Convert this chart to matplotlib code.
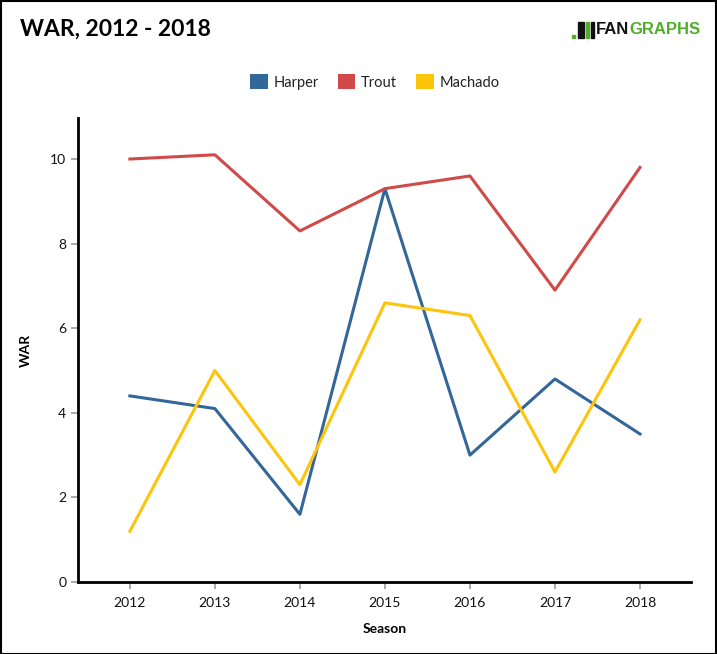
import matplotlib
matplotlib.use("Agg")
import matplotlib.pyplot as plt
from matplotlib.patches import Rectangle, Patch

seasons = [2012, 2013, 2014, 2015, 2016, 2017, 2018]
harper = [4.4, 4.1, 1.6, 9.3, 3.0, 4.8, 3.5]
trout = [10.0, 10.1, 8.3, 9.3, 9.6, 6.9, 9.8]
machado = [1.2, 5.0, 2.3, 6.6, 6.3, 2.6, 6.2]
y_ticks = [0, 2, 4, 6, 8, 10]

colors = {'Harper': '#336699', 'Trout': '#d04a4a', 'Machado': '#fdc40c'}

plt.rcParams['font.family'] = ['Lato', 'DejaVu Sans']

fig = plt.figure(figsize=(7.17, 6.54), dpi=100)
W, H = 717, 654
ax = fig.add_axes([78 / W, 1 - 582 / H, (691 - 78) / W, (582 - 118) / H])

ax.plot(seasons, harper, color=colors['Harper'], lw=2.2)
ax.plot(seasons, trout, color=colors['Trout'], lw=2.2)
ax.plot(seasons, machado, color=colors['Machado'], lw=2.2)

ax.set_xlim(2011.39, 2018.6)
ax.set_ylim(0, 10.97)
ax.set_xticks(seasons)
ax.set_yticks(y_ticks)
ax.tick_params(axis='both', length=5, width=1.2, color='#999999', labelsize=10, labelcolor='#111111')
ax.tick_params(axis='x', pad=6)
for s in ['top', 'right']:
    ax.spines[s].set_visible(False)
for s in ['left', 'bottom']:
    ax.spines[s].set_linewidth(2)
    ax.spines[s].set_color('black')
ax.set_xlabel('Season', fontsize=10, fontweight='bold', labelpad=10)
ax.set_ylabel('WAR', fontsize=10, fontweight='bold')
ax.yaxis.set_label_coords(-(78 - 32) / (691 - 78), 0.5)

fig.text(20 / W, 1 - 29 / H, 'WAR, 2012 - 2018', fontsize=16.5, fontweight='bold', va='center', ha='left')

# FanGraphs logo
fig.canvas.draw()
r = fig.canvas.get_renderer()
t1 = fig.text(596 / W, 1 - 30 / H, 'FAN', fontsize=12, fontweight='bold', color='#111111',
              va='center', ha='left', family='Liberation Sans')
bb = t1.get_window_extent(renderer=r)
fig.text(bb.x1 / W, 1 - 30 / H, 'GRAPHS', fontsize=12, fontweight='bold', color='#50ae2c',
         va='center', ha='left', family='Liberation Sans')
# small icon marks
fig.patches.append(Rectangle((572 / W, 1 - 38 / H), 3 / W, 3 / H, transform=fig.transFigure,
                             color='#50ae2c'))
fig.patches.append(Rectangle((578 / W, 1 - 38 / H), 6 / W, 16 / H, transform=fig.transFigure,
                             color='#111111'))
fig.patches.append(Rectangle((586 / W, 1 - 38 / H), 3 / W, 16 / H, transform=fig.transFigure,
                             color='#50ae2c'))
fig.patches.append(Rectangle((591 / W, 1 - 38 / H), 3 / W, 16 / H, transform=fig.transFigure,
                             color='#111111'))

handles = [Patch(facecolor=colors[k], label=k) for k in ['Harper', 'Trout', 'Machado']]
fig.legend(handles=handles, loc='center', bbox_to_anchor=(375 / W, 1 - 82 / H), ncol=3, frameon=False,
           fontsize=10.5, handlelength=1.2, handleheight=1.2, columnspacing=1.3,
           handletextpad=0.4, labelcolor='#222222')

fig.patches.append(Rectangle((0.5 / W, 0.5 / H), 1 - 1.5 / W, 1 - 1.5 / H, transform=fig.transFigure,
                             fill=False, edgecolor='black', lw=1.5))

fig.savefig('out.png', dpi=100)
